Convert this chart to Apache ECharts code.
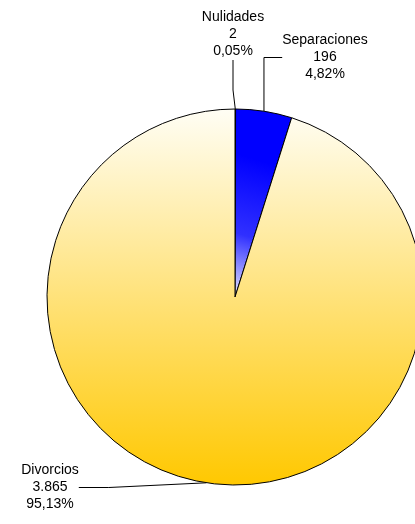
<!DOCTYPE html>
<html>
<head>
<meta charset="utf-8">
<script src="https://cdn.jsdelivr.net/npm/echarts@6/dist/echarts.min.js"></script>
<style>html,body{margin:0;padding:0;background:#fff}#chart{width:415px;height:524px}</style>
</head>
<body>
<div id="chart"></div>
<script>
var categories = ['Nulidades', 'Separaciones', 'Divorcios']
var values = [2, 196, 3865]
// label anchor points (px) for each slice
var labelPos = [[233, 9, 'center'], [325, 32, 'center'], [50, 462, 'center']]

var total = values.reduce(function (a, b) { return a + b }, 0)
function fmtNum(v) {
  return String(v).replace(/\B(?=(\d{3})+(?!\d))/g, '.')
}
function fmtPct(v) {
  return (v / total * 100).toFixed(2).replace('.', ',') + '%'
}

var colors = [
  { type: 'linear', x: 0, y: 0.5, x2: 1, y2: 0.5, colorStops: [{ offset: 0, color: '#ffffff' }, { offset: 1, color: '#0000ff' }] },
  { type: 'linear', x: 0, y: 1, x2: 0.7, y2: 0.3, colorStops: [{ offset: 0, color: '#e8e8ff' }, { offset: 0.45, color: '#3030ff' }, { offset: 1, color: '#0000ff' }] },
  { type: 'linear', x: 0, y: 0, x2: 0, y2: 1, colorStops: [{ offset: 0, color: '#fffef5' }, { offset: 0.5, color: '#ffe27a' }, { offset: 1, color: '#ffc800' }] }
]

var chart = echarts.init(document.getElementById('chart'))
chart.setOption({
  animation: false,
  series: [{
    type: 'pie',
    center: [235, 297],
    radius: 188,
    startAngle: 90,
    avoidLabelOverlap: false,
    itemStyle: { borderColor: '#000', borderWidth: 1 },
    label: {
      formatter: function (p) {
        return p.name + '\n' + fmtNum(p.value) + '\n' + fmtPct(p.value)
      },
      fontFamily: 'Liberation Sans',
      fontSize: 14,
      lineHeight: 17,
      color: '#000'
    },
    labelLine: { show: true, lineStyle: { color: '#000', width: 1 } },
    labelLayout: function (params) {
      var p = labelPos[params.dataIndex]
      return { x: p[0], y: p[1] + params.labelRect.height / 2, align: p[2], verticalAlign: 'middle', hideOverlap: false, moveOverlap: false }
    },
    data: categories.map(function (c, i) {
      return { name: c, value: values[i], itemStyle: { color: colors[i] } }
    })
  }]
})
</script>
</body>
</html>
